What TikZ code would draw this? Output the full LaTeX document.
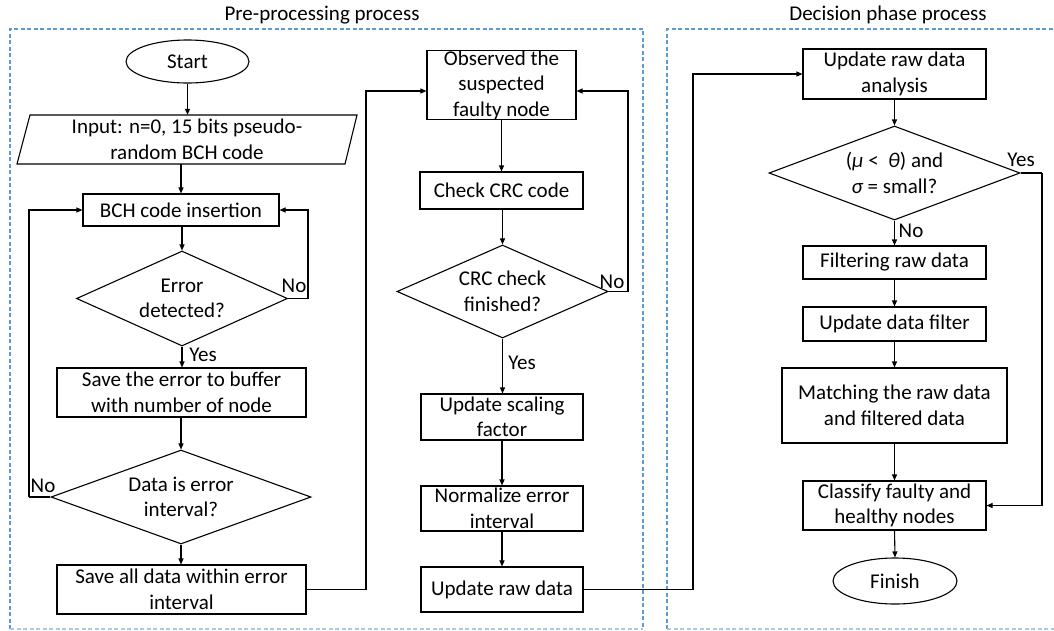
\documentclass[tikz,border=0pt]{standalone}
\usepackage{fontspec}
\setmainfont{Carlito}
\usetikzlibrary{shapes.geometric,arrows.meta,calc}
\definecolor{framec}{HTML}{5B9BD5}
\definecolor{framelight}{HTML}{A9C9E8}
\begin{document}
\begin{tikzpicture}[x=1pt,y=-1pt,
  font=\fontsize{21}{25.5}\selectfont,
  box/.style={draw,line width=1.1pt,inner sep=0pt,align=center},
  term/.style={draw,ellipse,line width=1.1pt,inner sep=0pt,align=center},
  dia/.style={draw,diamond,line width=1.1pt,inner sep=0pt,align=center,aspect=2.2},
  arr/.style={line width=1.1pt,-{Triangle[length=6pt,width=5pt]}},
  ln/.style={line width=1.1pt},
  framebox/.style={dash pattern=on 4pt off 2.5pt,line width=1.2pt,draw=framec},
  framebot/.style={dash pattern=on 4pt off 2.5pt,line width=1.2pt,draw=framelight},
  lbl/.style={inner sep=0pt}]
\useasboundingbox (0,0) rectangle (1054,630);
\clip (0,0) rectangle (1054,630);

% frames
\draw[framebox] (10,629) -- (10,29) -- (643,29) -- (643,629);
\draw[framebot] (10,629) -- (643,629);
\draw[framebox] (667,629) -- (667,29) -- (1070,29) -- (1070,629);
\draw[framebot] (667,629) -- (1070,629);
\node[lbl] (t1) at (322,15) {Pre-processing process};
\node[lbl] (t2) at (888,15) {Decision phase process};

% left column
\node[term,minimum width=123pt,minimum height=43pt] (start) at (187.5,61.5) {Start};
\node[inner sep=0pt,minimum width=328pt,minimum height=49pt,align=center] (input) at (187,139.5) {Input: n=0, 15 bits pseudo-\\random BCH code};
\draw[ln] (30,115) -- (357,115) -- (345,164) -- (17,164) -- cycle;
\node[box,minimum width=196pt,minimum height=32pt] (bch) at (181,210) {BCH code insertion};
\node[dia,minimum width=211pt,minimum height=95pt] (d1) at (182,298.5) {Error\\detected?};
\node[box,minimum width=249pt,minimum height=49pt] (save1) at (181.5,392.5) {Save the error to buffer\\with number of node};
\node[dia,minimum width=260pt,minimum height=94pt] (d2) at (181,497) {Data is error\\interval?};
\node[box,minimum width=249pt,minimum height=49pt] (save2) at (181.5,589.5) {Save all data within error\\interval};

% middle column
\node[box,minimum width=149pt,minimum height=64pt] (obs) at (501.5,85) {Observed the\\suspected\\faulty node};
\node[box,minimum width=163pt,minimum height=37pt] (crc) at (501.5,190.5) {Check CRC code};
\node[dia,minimum width=211pt,minimum height=93pt] (d3) at (502.5,291.5) {CRC check\\finished?};
\node[box,minimum width=162pt,minimum height=46pt] (scale) at (502,417) {Update scaling\\factor};
\node[box,minimum width=162pt,minimum height=45pt] (norm) at (502,508.5) {Normalize error\\interval};
\node[box,minimum width=162pt,minimum height=45pt] (raw) at (502,589.5) {Update raw data};

% right column
\node[box,minimum width=183pt,minimum height=50pt] (ana) at (894.5,74) {Update raw data\\analysis};
\node[dia,minimum width=251pt,minimum height=94pt] (d4) at (894.5,173) {({\itshape μ} <\ \ {\itshape θ}) and\\{\itshape σ} = small?};
\node[box,minimum width=183pt,minimum height=33pt] (filt) at (894.5,262.5) {Filtering raw data};
\node[box,minimum width=183pt,minimum height=34pt] (upd) at (894.5,324) {Update data filter};
\node[box,minimum width=225pt,minimum height=75pt] (match) at (894.5,405.5) {Matching the raw data\\and filtered data};
\node[box,minimum width=183pt,minimum height=49pt] (cls) at (894.5,505.5) {Classify faulty and\\healthy nodes};
\node[term,minimum width=124pt,minimum height=46pt] (fin) at (895,581) {Finish};

% left connectors
\draw[arr] (start.south) -- (start.south |- input.north);
\draw[arr] (input.south -| bch.north) -- (bch.north);
\draw[arr] (bch.south -| d1.north) -- (d1.north);
\draw[ln] (d1.east) -- (308,298.5) coordinate (c1);
\draw[arr] (c1) |- (bch.east);
\node[lbl] (no1) at (294,286) {No};
\draw[arr] (d1.south) -- (d1.south |- save1.north);
\node[lbl] (yes1) at (203,355) {Yes};
\draw[arr] (save1.south -| d2.north) -- (d2.north);
\draw[ln] (d2.west) -- (29,497) coordinate (c2);
\draw[arr] (c2) |- (bch.west);
\node[lbl] (no2) at (43,486) {No};
\draw[arr] (d2.south) -- (d2.south |- save2.north);
\draw[ln] (save2.east) -- (366,589.5) coordinate (c3);
\draw[arr] (c3) |- (obs.west |- 366,91);

% middle connectors
\draw[arr] (obs.south -| crc.north) -- (crc.north);
\draw[arr] (crc.south -| d3.north) -- (d3.north);
\draw[ln] (d3.east) -- (628,291.5) coordinate (c4);
\draw[arr] (c4) |- (obs.east |- 628,91);
\node[lbl] (no3) at (612,282) {No};
\draw[arr] (d3.south) -- (d3.south |- scale.north);
\node[lbl] (yes3) at (522,363) {Yes};
\draw[arr] (scale.south) -- (norm.north);
\draw[arr] (norm.south) -- (raw.north);
\draw[ln] (raw.east) -- (693,589.5) coordinate (c5);
\draw[arr] (c5) |- (ana.west);

% right connectors
\draw[arr] (ana.south) -- (d4.north);
\draw[arr] (d4.south) -- (filt.north);
\node[lbl] (no4) at (911,231) {No};
\draw[ln] (d4.east) -- (1042,173) coordinate (c6);
\draw[arr] (c6) |- (cls.east);
\node[lbl] (yes4) at (1021,160) {Yes};
\draw[arr] (filt.south) -- (upd.north);
\draw[arr] (upd.south) -- (match.north);
\draw[arr] (match.south) -- (cls.north);
\draw[arr] (cls.south) -- (fin.north);
\end{tikzpicture}
\end{document}
